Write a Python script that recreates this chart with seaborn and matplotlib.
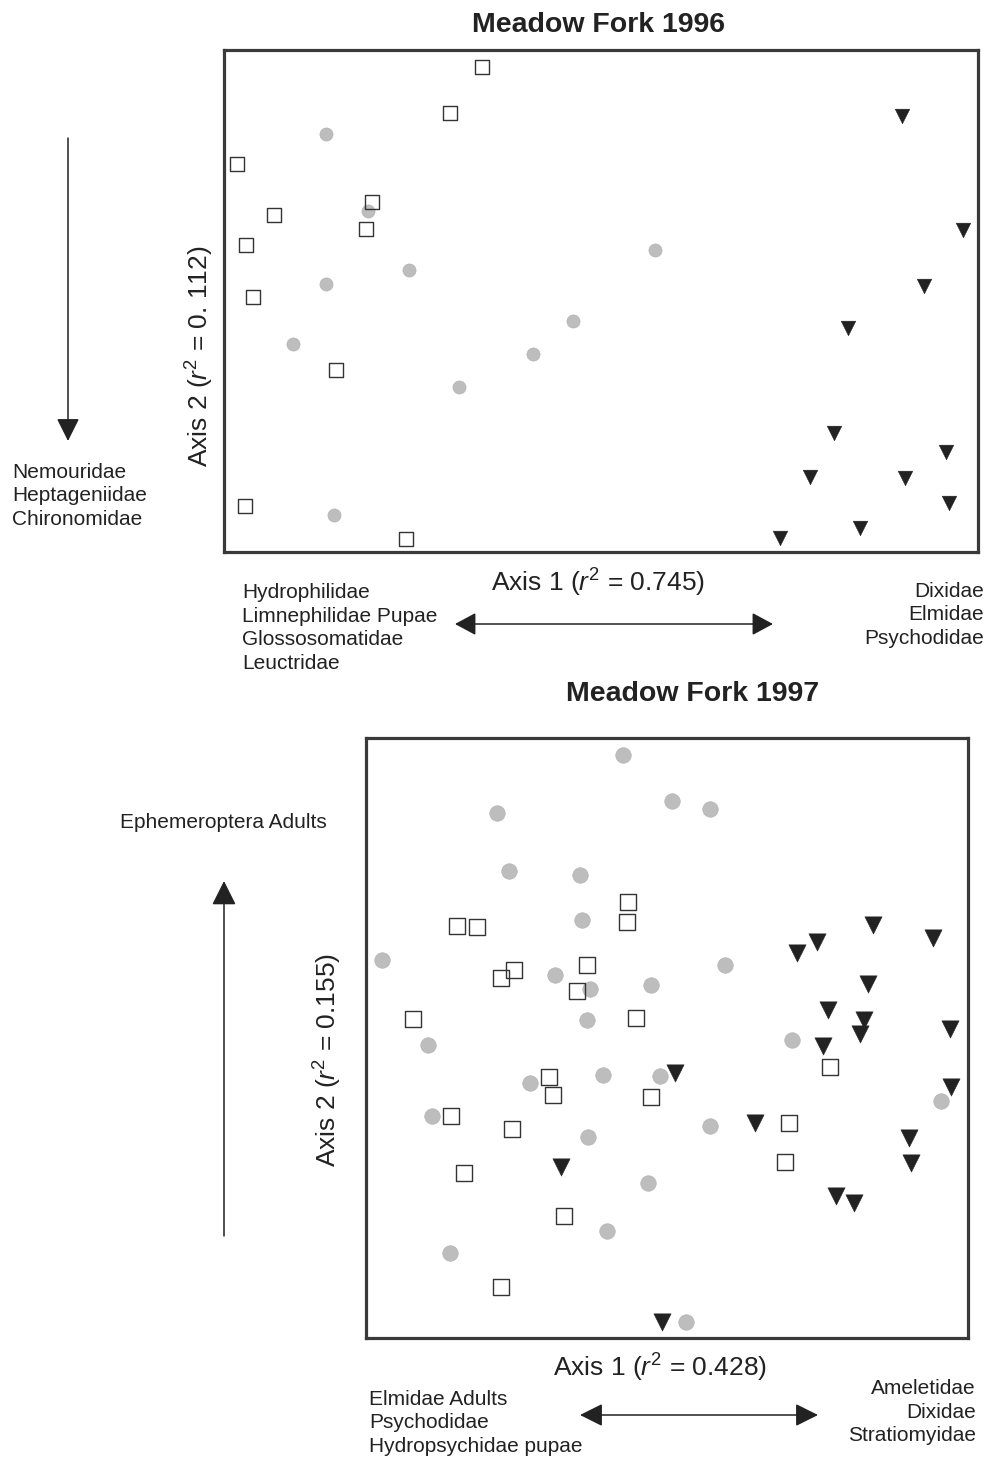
import numpy as np
import pandas as pd
import seaborn as sns
import matplotlib
import matplotlib.pyplot as plt
from matplotlib.patches import FancyArrowPatch
matplotlib.use('Agg')

# ordination scores (0-100 across each plot box)
sq96_x = [34.2, 30.0, 1.7, 6.6, 19.6, 18.8, 2.9, 3.8, 14.9, 2.8, 24.1]
sq96_y = [96.6, 87.5, 77.3, 67.1, 69.7, 64.3, 61.2, 50.8, 36.3, 9.2, 2.6]
ci96_x = [13.5, 19.1, 24.5, 13.5, 57.2, 46.3, 41.0, 9.2, 31.2, 14.6]
ci96_y = [83.3, 67.9, 56.2, 53.4, 60.2, 46.0, 39.4, 41.4, 32.9, 7.4]
tr96_x = [89.9, 98.0, 92.8, 82.8, 80.9, 95.8, 77.7, 90.3, 96.2, 84.4, 73.7]
tr96_y = [86.9, 64.1, 53.0, 44.6, 23.7, 19.9, 14.9, 14.7, 9.8, 4.8, 2.8]

sq97_x = [43.5, 43.4, 15.1, 18.4, 24.6, 22.4, 36.7, 35.0, 7.8, 44.9, 30.4,
          31.1, 47.3, 14.1, 24.3, 16.3, 32.9, 22.4, 77.1, 70.3, 69.6]
sq97_y = [72.7, 69.3, 68.7, 68.5, 61.3, 60.0, 62.2, 57.8, 53.2, 53.3, 43.5,
          40.5, 40.2, 37.0, 34.8, 27.5, 20.3, 8.5, 45.2, 35.8, 29.3]
ci97_x = [42.7, 50.8, 57.1, 21.8, 23.8, 35.5, 35.9, 2.7, 31.4, 37.2, 47.3,
          59.6, 36.7, 10.3, 70.8, 27.2, 39.4, 48.8, 11.0, 57.1, 95.5, 36.9,
          46.8, 40.0, 14.0, 53.2]
ci97_y = [97.2, 89.5, 88.2, 87.5, 77.8, 77.2, 69.7, 63.0, 60.5, 58.2, 58.8,
          62.2, 53.0, 48.8, 49.7, 42.5, 43.8, 43.7, 37.0, 35.3, 39.5, 33.5,
          25.8, 17.8, 14.2, 2.7]
tr97_x = [32.4, 49.2, 84.2, 94.2, 74.9, 71.6, 83.4, 76.7, 82.7, 82.1, 97.0,
          75.9, 51.3, 97.2, 64.6, 90.2, 90.5, 78.1, 81.1]
tr97_y = [28.5, 2.7, 68.8, 66.7, 66.0, 64.2, 59.0, 54.7, 53.0, 50.7, 51.5,
          48.7, 44.2, 41.8, 35.8, 33.3, 29.2, 23.7, 22.5]

W, H = 989, 1460
TXT = '#222222'
LBL = 15
AXL = 19
TTL = 20.5
LSP = 1.33

sns.set_theme(style='white')
plt.rcParams['font.family'] = ['Liberation Sans', 'DejaVu Sans']
plt.rcParams['mathtext.fontset'] = 'custom'
plt.rcParams['mathtext.rm'] = 'Liberation Sans'
plt.rcParams['mathtext.it'] = 'Liberation Sans:italic'

fig = plt.figure(figsize=(W / 100, H / 100), dpi=100)


def fx(x, y):
    return x / W, 1 - y / H


def box(left, top, right, bottom):
    ax = fig.add_axes([left / W, 1 - bottom / H, (right - left) / W, (bottom - top) / H])
    ax.set_xlim(0, 100)
    ax.set_ylim(0, 100)
    ax.set_xticks([])
    ax.set_yticks([])
    for s in ax.spines.values():
        s.set_color('#3a3a3a')
        s.set_linewidth(2.3)
    return ax


def draw(ax, sx, sy, cx, cy, tx, ty, size):
    sns.scatterplot(x=cx, y=cy, ax=ax, marker='o', color='#bdbdbd',
                    edgecolor='#b0b0b0', linewidth=0.4, s=size, zorder=2)
    sns.scatterplot(x=sx, y=sy, ax=ax, marker='s', color='none',
                    edgecolor='#333333', linewidth=1.0, s=size * 1.1, zorder=3)
    sns.scatterplot(x=tx, y=ty, ax=ax, marker='v', color='#222222',
                    edgecolor='#222222', linewidth=0.3, s=size * 1.25, zorder=3)
    ax.set_xlabel('')
    ax.set_ylabel('')


def arrow(x0, y0, x1, y1, style):
    a = FancyArrowPatch(fx(x0, y0), fx(x1, y1), transform=fig.transFigure,
                        arrowstyle=style, mutation_scale=1, color='#222222',
                        linewidth=1.1, shrinkA=0, shrinkB=0)
    fig.add_artist(a)


# ---- Meadow Fork 1996
ax1 = box(224, 50, 978, 552)
draw(ax1, sq96_x, sq96_y, ci96_x, ci96_y, tr96_x, tr96_y, 90)
fig.text(*fx(599, 25), 'Meadow Fork 1996', ha='center', va='center',
         fontsize=TTL, fontweight='bold', color=TXT)
fig.text(*fx(598, 583), r'Axis 1 ($\mathit{r}^2$ = 0.745)', ha='center', va='center',
         fontsize=AXL, color=TXT)
fig.text(*fx(200, 356), r'Axis 2 ($\mathit{r}^2$ = 0. 112)', ha='center', va='center',
         rotation=90, fontsize=AXL, color=TXT)
fig.text(*fx(12, 496), 'Nemouridae\nHeptageniidae\nChironomidae', ha='left', va='center',
         fontsize=LBL, linespacing=LSP, color=TXT)
fig.text(*fx(242, 628), 'Hydrophilidae\nLimnephilidae Pupae\nGlossosomatidae\nLeuctridae',
         ha='left', va='center', fontsize=LBL, linespacing=LSP, color=TXT)
fig.text(*fx(984, 615), 'Dixidae\nElmidae\nPsychodidae', ha='right', va='center',
         fontsize=LBL, linespacing=LSP, color=TXT)
arrow(68, 138, 68, 441, '-|>,head_length=14,head_width=7')
arrow(455, 624, 773, 624, '<|-|>,head_length=13,head_width=7')

# ---- Meadow Fork 1997
ax2 = box(366, 738, 968, 1338)
draw(ax2, sq97_x, sq97_y, ci97_x, ci97_y, tr97_x, tr97_y, 125)
fig.text(*fx(693, 694), 'Meadow Fork 1997', ha='center', va='center',
         fontsize=TTL, fontweight='bold', color=TXT)
fig.text(*fx(660, 1368), r'Axis 1 ($\mathit{r}^2$ = 0.428)', ha='center', va='center',
         fontsize=AXL, color=TXT)
fig.text(*fx(328, 1060), r'Axis 2 ($\mathit{r}^2$ = 0.155)', ha='center', va='center',
         rotation=90, fontsize=AXL, color=TXT)
fig.text(*fx(120, 823), 'Ephemeroptera Adults', ha='left', va='center',
         fontsize=LBL, color=TXT)
fig.text(*fx(369, 1423), 'Elmidae Adults\nPsychodidae\nHydropsychidae pupae',
         ha='left', va='center', fontsize=LBL, linespacing=LSP, color=TXT)
fig.text(*fx(976, 1412), 'Ameletidae\nDixidae\nStratiomyidae', ha='right', va='center',
         fontsize=LBL, linespacing=LSP, color=TXT)
arrow(224, 1236, 224, 881, '-|>,head_length=15,head_width=7.5')
arrow(580, 1415, 818, 1415, '<|-|>,head_length=14,head_width=7')

fig.savefig('out.png', dpi=100, facecolor='white')
